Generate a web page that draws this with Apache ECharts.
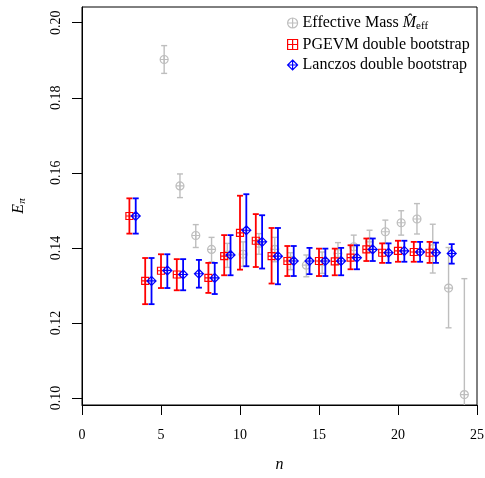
<!DOCTYPE html>
<html><head><meta charset="utf-8">
<script src="https://cdn.jsdelivr.net/npm/echarts@6/dist/echarts.min.js"></script>
<style>html,body{margin:0;padding:0;background:#fff}#c{width:485px;height:478px}</style>
</head><body><div id="c"></div>
<script>
// ---- data ----
const xTicks = [0, 5, 10, 15, 20, 25];
const yTicks = [0.10, 0.12, 0.14, 0.16, 0.18, 0.20];

const effN   = [5, 6, 7, 8, 9, 10, 11, 12, 13, 14, 15, 16, 17, 18, 19, 20, 21, 22, 23, 24];
const effVal = [0.1902, 0.1565, 0.1433, 0.1396, 0.1381, 0.1383, 0.1412, 0.1396, 0.1367, 0.1354, 0.1363, 0.1385, 0.1403, 0.1416, 0.1443, 0.1467, 0.1477, 0.1398, 0.1293, 0.1009];
const effLo  = [0.1865, 0.1534, 0.1401, 0.1363, 0.1348, 0.1351, 0.1383, 0.1363, 0.1342, 0.1323, 0.1332, 0.1356, 0.1376, 0.1389, 0.1412, 0.1434, 0.1437, 0.1333, 0.1187, 0.0700];
const effHi  = [0.1939, 0.1597, 0.1462, 0.1428, 0.1412, 0.1416, 0.1438, 0.1428, 0.1387, 0.1381, 0.1389, 0.1414, 0.1434, 0.1447, 0.1474, 0.1499, 0.1518, 0.1463, 0.1401, 0.1318];

const pgN   = [3, 4, 5, 6, 8, 9, 10, 11, 12, 13, 15, 16, 17, 18, 19, 20, 21, 22];
const pgVal = [0.1485, 0.1312, 0.1339, 0.1329, 0.1320, 0.1378, 0.1440, 0.1419, 0.1378, 0.1365, 0.1365, 0.1364, 0.1374, 0.1396, 0.1387, 0.1392, 0.1389, 0.1387];
const pgLo  = [0.1438, 0.1250, 0.1293, 0.1287, 0.1280, 0.1327, 0.1342, 0.1349, 0.1305, 0.1325, 0.1325, 0.1327, 0.1343, 0.1365, 0.1360, 0.1363, 0.1363, 0.1360];
const pgHi  = [0.1532, 0.1373, 0.1383, 0.1370, 0.1360, 0.1434, 0.1539, 0.1490, 0.1453, 0.1405, 0.1398, 0.1398, 0.1407, 0.1425, 0.1412, 0.1419, 0.1416, 0.1416];

const lzN   = [3, 4, 5, 6, 7, 8, 9, 10, 11, 12, 13, 14, 15, 16, 17, 18, 19, 20, 21, 22, 23];
const lzVal = [0.1485, 0.1312, 0.1340, 0.1329, 0.1331, 0.1320, 0.1381, 0.1447, 0.1416, 0.1378, 0.1365, 0.1365, 0.1365, 0.1365, 0.1374, 0.1396, 0.1387, 0.1392, 0.1389, 0.1387, 0.1385];
const lzLo  = [0.1438, 0.1250, 0.1293, 0.1287, 0.1294, 0.1277, 0.1327, 0.1351, 0.1345, 0.1303, 0.1325, 0.1330, 0.1325, 0.1327, 0.1343, 0.1365, 0.1360, 0.1363, 0.1363, 0.1360, 0.1358];
const lzHi  = [0.1532, 0.1373, 0.1383, 0.1370, 0.1368, 0.1360, 0.1434, 0.1543, 0.1487, 0.1453, 0.1405, 0.1400, 0.1398, 0.1400, 0.1407, 0.1425, 0.1412, 0.1419, 0.1416, 0.1414, 0.1410];

const NAME_EFF = 'Effective Mass';
const NAME_PG = 'PGEVM double bootstrap';
const NAME_LZ = 'Lanczos double bootstrap';

// ---- drawing ----
const FONT = 'Liberation Serif';
const DODGE = { pg: 0, eff: 0.2, lz: 0.4 };
const SYM_CIRCLE = 'path://M0,-1A1,1,0,1,1,0,1A1,1,0,1,1,0,-1ZM-1,0L1,0M0,-1L0,1';
const SYM_SQUARE = 'path://M-1,-1L1,-1L1,1L-1,1ZM-1,0L1,0M0,-1L0,1';
const SYM_DIAMOND = 'path://M0,-1L1,0L0,1L-1,0ZM-1,0L1,0M0,-1L0,1';

function pts(n, v, off) { return n.map((k, i) => [k + off, v[i]]); }
function bars(n, v, lo, hi, off) { return n.map((k, i) => [k + off, v[i], lo[i], hi[i]]); }
function errRender(color, w) {
  return function (params, api) {
    const x = api.value(0);
    const a = api.coord([x, api.value(2)]);
    const b = api.coord([x, api.value(3)]);
    const cap = 3;
    const st = { stroke: color, lineWidth: w };
    return { type: 'group', children: [
      { type: 'line', shape: { x1: a[0], y1: a[1], x2: b[0], y2: b[1] }, style: st },
      { type: 'line', shape: { x1: a[0] - cap, y1: a[1], x2: a[0] + cap, y2: a[1] }, style: st },
      { type: 'line', shape: { x1: b[0] - cap, y1: b[1], x2: b[0] + cap, y2: b[1] }, style: st }
    ]};
  };
}

const GRAY = '#bebebe', RED = '#ff0000', BLUE = '#0000ff';
const CLEAR = 'rgba(255,255,255,0)';

const chart = echarts.init(document.getElementById('c'), null, { renderer: 'canvas' });
chart.setOption({
  backgroundColor: '#fff',
  animation: false,
  grid: { left: 82, top: 7, width: 395, height: 398, show: true, borderColor: '#000', borderWidth: 1,
    backgroundColor: 'transparent', containLabel: false, outerBoundsMode: 'none' },
  legend: {
    orient: 'vertical', left: 282, top: 9, itemWidth: 10, itemHeight: 10, itemGap: 4.5,
    data: [
      { name: NAME_EFF, icon: SYM_CIRCLE, itemStyle: { color: CLEAR, borderColor: GRAY, borderWidth: 1.2 } },
      { name: NAME_PG, icon: SYM_SQUARE, itemStyle: { color: CLEAR, borderColor: RED, borderWidth: 1.2 } },
      { name: NAME_LZ, icon: SYM_DIAMOND, itemStyle: { color: CLEAR, borderColor: BLUE, borderWidth: 1.2 } }
    ],
    formatter: function (name) {
      if (name === NAME_EFF) return '{a|Effective Mass }{m|M\u0302}{s|eff}';
      return '{a|' + name + '}';
    },
    textStyle: {
      fontFamily: FONT, fontSize: 16, color: '#000',
      rich: {
        a: { fontFamily: FONT, fontSize: 16, color: '#000', lineHeight: 18 },
        m: { fontFamily: FONT, fontSize: 16, fontStyle: 'italic', color: '#000', lineHeight: 18 },
        s: { fontFamily: FONT, fontSize: 11, color: '#000', verticalAlign: 'bottom', lineHeight: 11, padding: [7, 0, 0, 0] }
      }
    }
  },
  xAxis: {
    type: 'value', min: 0, max: 25, interval: 5,
    name: 'n', nameLocation: 'middle', nameGap: 52,
    nameTextStyle: { fontFamily: FONT, fontSize: 16, fontStyle: 'italic', color: '#000' },
    axisLine: { show: true, onZero: false, lineStyle: { color: '#000', width: 1 } },
    axisTick: { show: true, length: 10, lineStyle: { color: '#000' } },
    axisLabel: { show: true, margin: 23, fontFamily: FONT, fontSize: 14, color: '#000',
      customValues: xTicks },
    splitLine: { show: false }
  },
  yAxis: {
    type: 'value', min: 0.09813, max: 0.20419,
    name: '{e|E}{s|\u03c0}', nameLocation: 'middle', nameGap: 54, nameRotate: 90,
    nameTextStyle: { fontFamily: FONT, fontSize: 16, color: '#000',
      rich: {
        e: { fontFamily: FONT, fontSize: 16, fontStyle: 'italic', color: '#000', lineHeight: 18 },
        s: { fontFamily: FONT, fontSize: 11, fontStyle: 'italic', color: '#000', verticalAlign: 'bottom', lineHeight: 11, padding: [7, 0, 0, 0] }
      } },
    axisLine: { show: true, onZero: false, lineStyle: { color: '#000', width: 1 } },
    axisTick: { show: true, length: 10, customValues: yTicks, lineStyle: { color: '#000' } },
    axisLabel: { show: true, rotate: 90, margin: 19, fontFamily: FONT, fontSize: 14, color: '#000',
      customValues: yTicks, formatter: v => v.toFixed(2) },
    splitLine: { show: false }
  },
  series: [
    { type: 'custom', name: 'effErr', clip: true, renderItem: errRender(GRAY, 1.4),
      data: bars(effN, effVal, effLo, effHi, DODGE.eff), z: 2 },
    { type: 'scatter', name: NAME_EFF, symbol: SYM_CIRCLE, symbolSize: 8, clip: true,
      itemStyle: { color: CLEAR, borderColor: GRAY, borderWidth: 1.2, opacity: 1 },
      data: pts(effN, effVal, DODGE.eff), z: 3 },
    { type: 'custom', name: 'pgErr', clip: true, renderItem: errRender(RED, 1.8),
      data: bars(pgN, pgVal, pgLo, pgHi, DODGE.pg), z: 4 },
    { type: 'scatter', name: NAME_PG, symbol: SYM_SQUARE, symbolSize: 7, clip: true,
      itemStyle: { color: CLEAR, borderColor: RED, borderWidth: 1.2, opacity: 1 },
      data: pts(pgN, pgVal, DODGE.pg), z: 5 },
    { type: 'custom', name: 'lzErr', clip: true, renderItem: errRender(BLUE, 1.8),
      data: bars(lzN, lzVal, lzLo, lzHi, DODGE.lz), z: 6 },
    { type: 'scatter', name: NAME_LZ, symbol: SYM_DIAMOND, symbolSize: 9, clip: true,
      itemStyle: { color: CLEAR, borderColor: BLUE, borderWidth: 1.2, opacity: 1 },
      data: pts(lzN, lzVal, DODGE.lz), z: 7 }
  ]
});
</script></body></html>
